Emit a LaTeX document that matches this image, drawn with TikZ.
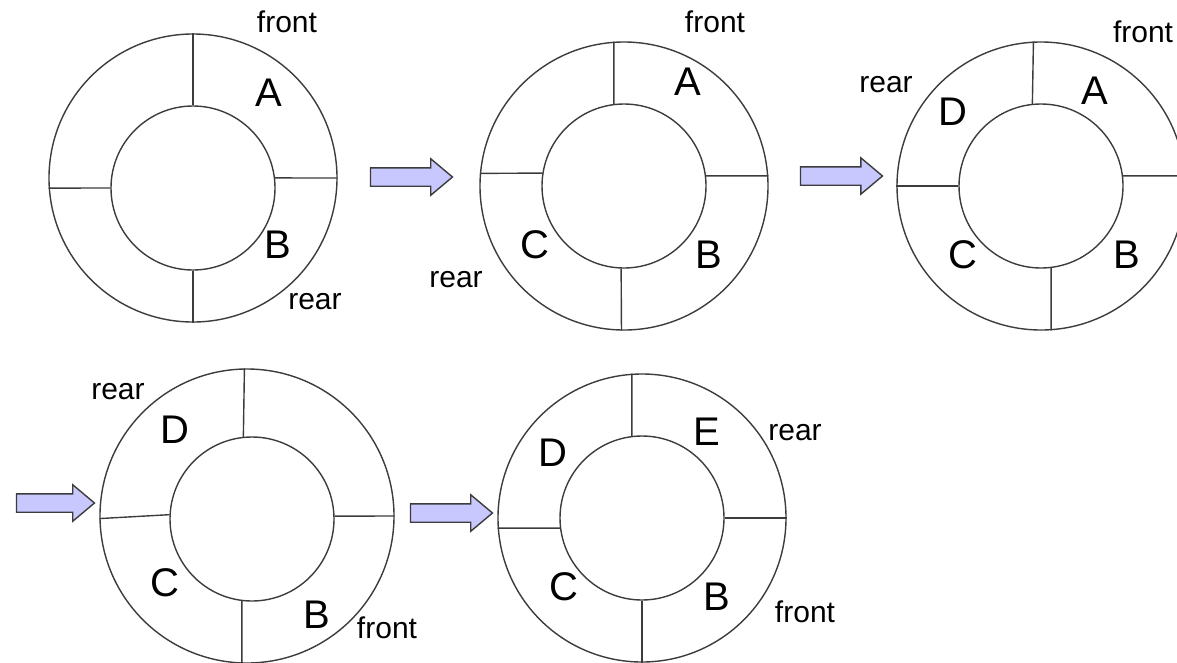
\documentclass[tikz,border=0pt]{standalone}
\usepackage{fontspec}
\setmainfont{Liberation Sans}
\usetikzlibrary{shapes.arrows}
\definecolor{movefill}{RGB}{200,200,255}
\definecolor{ringline}{RGB}{60,60,60}

\begin{document}
\begin{tikzpicture}[x=1pt,y=-1pt,
    ringout/.style={draw=ringline, line width=1.4pt, shape=circle, minimum size=288pt, inner sep=0pt},
    ringin/.style={draw=ringline, line width=1.4pt, shape=circle, minimum size=164pt, inner sep=0pt},
    wall/.style={draw=ringline, line width=1.4pt},
    item/.style={text=black, font=\fontsize{40}{48}\selectfont, inner sep=0pt},
    tag/.style={text=black, font=\fontsize{30}{36}\selectfont, inner sep=0pt},
    move/.style={shape=single arrow, draw=ringline, fill=movefill, line width=1.4pt,
        minimum height=82pt, inner sep=8.5pt, single arrow head extend=9pt, single arrow tip angle=80}]
    \useasboundingbox (0,0) rectangle (1177,662);

    % first ring
    \node[ringout] (o1) at (193,178) {};
    \node[ringin] (i1) at (193,188) {};
    \draw[wall] (i1.90) -- (o1.90);
    \draw[wall] (i1.7) -- (o1.0);
    \draw[wall] (i1.270) -- (o1.270);
    \draw[wall] (i1.180) -- (o1.184);
    \node[item] (a1) at (269,93) {A};
    \node[item] (b1) at (278,245) {B};
    \node[tag] (f1) at (287,22) {front};
    \node[tag] (r1) at (315,302) {rear};

    \node[move] (m1) at (406,177) {};

    % second ring
    \node[ringout] (o2) at (624,186) {};
    \node[ringin] (i2) at (624,186) {};
    \draw[wall] (i2.97.7) -- (o2.94.4);
    \draw[wall] (i2.7) -- (o2.4);
    \draw[wall] (i2.268.6) -- (o2.269.2);
    \draw[wall] (i2.171.6) -- (o2.175.2);
    \node[item] (a2) at (688,82) {A};
    \node[item] (b2) at (709,255) {B};
    \node[item] (c2) at (535,245) {C};
    \node[tag] (f2) at (715,22) {front};
    \node[tag] (r2) at (456,280) {rear};

    \node[move] (m2) at (836,176) {};

    % third ring
    \node[ringout] (o3) at (1041,186) {};
    \node[ringin] (i3) at (1041,186) {};
    \draw[wall] (i3.96.3) -- (o3.93.6);
    \draw[wall] (i3.7.7) -- (o3.4.4);
    \draw[wall] (i3.277.7) -- (o3.274.4);
    \draw[wall] (i3.180) -- (o3.180);
    \node[item] (a3) at (1095,91) {A};
    \node[item] (b3) at (1127,255) {B};
    \node[item] (c3) at (963,255) {C};
    \node[item] (d3) at (953,112) {D};
    \node[tag] (f3) at (1143,32) {front};
    \node[tag] (r3) at (886,85) {rear};

    \node[move, minimum height=78pt] (m3) at (50,503) {};

    % fourth ring
    \node[ringout, minimum size=294pt] (o4) at (247,516) {};
    \node[ringin] (i4) at (252,519) {};
    \draw[wall] (i4.96.3) -- (o4.91.6);
    \draw[wall] (i4.2.8) -- (o4.0.4);
    \draw[wall] (i4.263.7) -- (o4.268.4);
    \draw[wall] (i4.177.9) -- (o4.181.2);
    \node[item] (b4) at (317,615) {B};
    \node[item] (c4) at (165,583) {C};
    \node[item] (d4) at (175,430) {D};
    \node[tag] (f4) at (387,628) {front};
    \node[tag] (r4) at (118,392) {rear};

    \node[move] (m4) at (446,513) {};

    % fifth ring
    \node[ringout] (o5) at (642,518) {};
    \node[ringin] (i5) at (642,518) {};
    \draw[wall] (i5.97) -- (o5.94);
    \draw[wall] (i5.0) -- (o5.0);
    \draw[wall] (i5.270) -- (o5.270);
    \draw[wall] (i5.187.7) -- (o5.184.4);
    \node[item] (b5) at (717,597) {B};
    \node[item] (c5) at (564,587) {C};
    \node[item] (d5) at (553,453) {D};
    \node[item] (e5) at (707,432) {E};
    \node[tag] (f5) at (805,612) {front};
    \node[tag] (r5) at (795,433) {rear};
\end{tikzpicture}
\end{document}
